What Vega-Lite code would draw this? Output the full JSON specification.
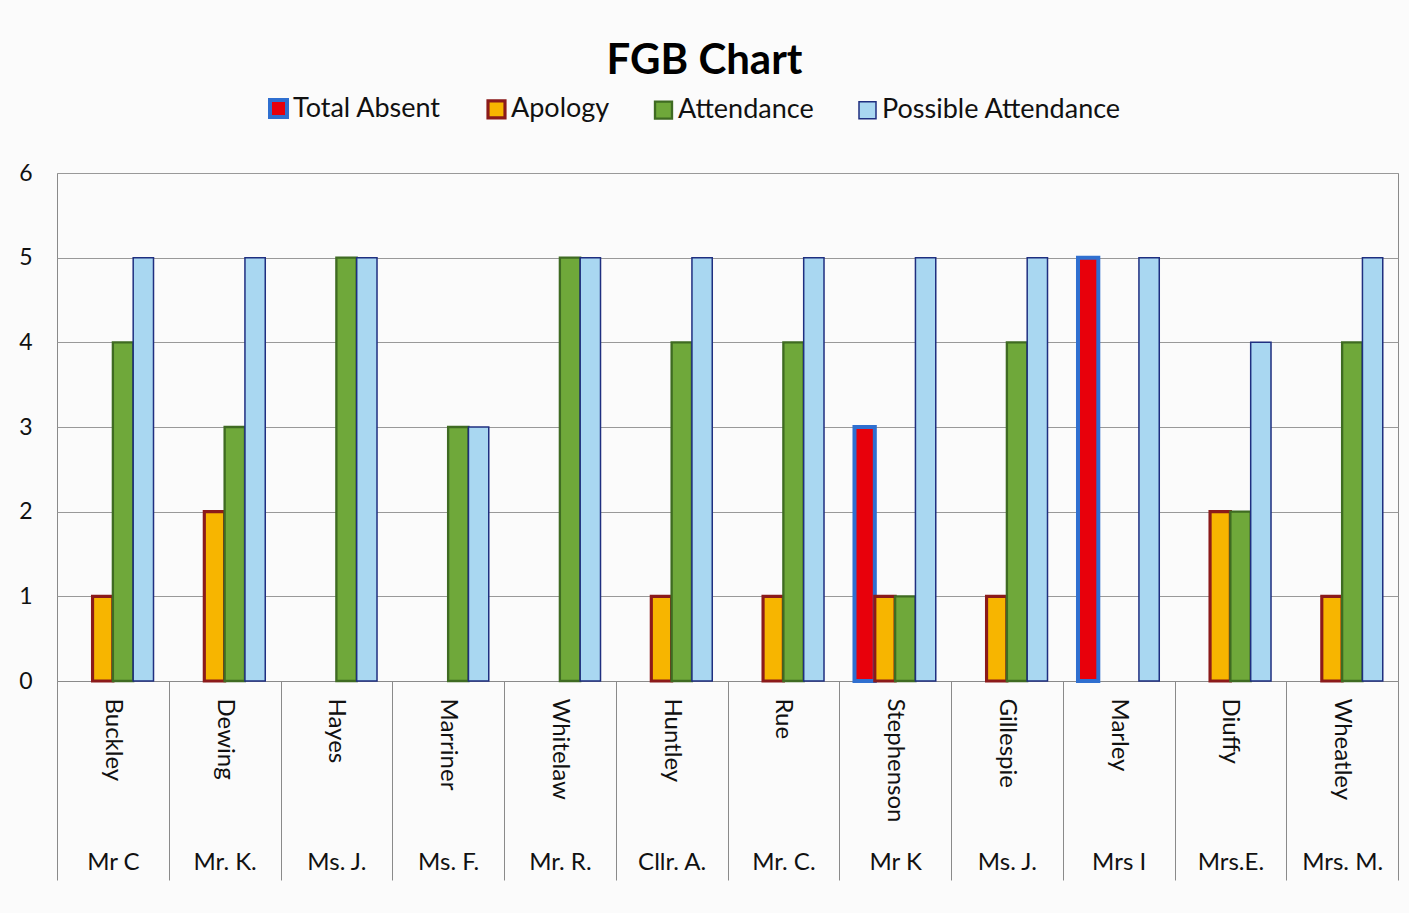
{
  "$schema": "https://vega.github.io/schema/vega-lite/v6.json",
  "width": 1341,
  "height": 508,
  "autosize": {"type": "none"},
  "padding": {"left": 57, "top": 173, "right": 11, "bottom": 232},
  "background": "#fbfbfb",
  "config": {
    "font": "Lato",
    "view": {"stroke": "#8a8a8a", "strokeWidth": 1}
  },
  "title": {"text": "FGB Chart", "fontSize": 42, "font": "Lato", "fontWeight": "bold", "color": "#000000", "anchor": "middle", "dx": -23, "offset": 12},
  "data": {
    "values": [
      {"person": "Buckley|Mr C", "Total Absent": 0, "Apology": 1, "Attendance": 4, "Possible Attendance": 5},
      {"person": "Dewing|Mr. K.", "Total Absent": 0, "Apology": 2, "Attendance": 3, "Possible Attendance": 5},
      {"person": "Hayes|Ms. J.", "Total Absent": 0, "Apology": 0, "Attendance": 5, "Possible Attendance": 5},
      {"person": "Marriner|Ms. F.", "Total Absent": 0, "Apology": 0, "Attendance": 3, "Possible Attendance": 3},
      {"person": "Whitelaw|Mr. R.", "Total Absent": 0, "Apology": 0, "Attendance": 5, "Possible Attendance": 5},
      {"person": "Huntley|Cllr. A.", "Total Absent": 0, "Apology": 1, "Attendance": 4, "Possible Attendance": 5},
      {"person": "Rue|Mr. C.", "Total Absent": 0, "Apology": 1, "Attendance": 4, "Possible Attendance": 5},
      {"person": "Stephenson|Mr K", "Total Absent": 3, "Apology": 1, "Attendance": 1, "Possible Attendance": 5},
      {"person": "Gillespie|Ms. J.", "Total Absent": 0, "Apology": 1, "Attendance": 4, "Possible Attendance": 5},
      {"person": "Marley|Mrs I", "Total Absent": 5, "Apology": 0, "Attendance": 0, "Possible Attendance": 5},
      {"person": "Diuffy|Mrs.E.", "Total Absent": 0, "Apology": 2, "Attendance": 2, "Possible Attendance": 4},
      {"person": "Wheatley|Mrs. M.", "Total Absent": 0, "Apology": 1, "Attendance": 4, "Possible Attendance": 5}
    ]
  },
  "transform": [
    {"fold": ["Total Absent", "Apology", "Attendance", "Possible Attendance"], "as": ["series", "value"]}
  ],
  "layer": [
    {
      "transform": [{"filter": "datum.value > 0"}],
      "mark": {"type": "bar"},
      "encoding": {
        "x": {
          "field": "person", "type": "nominal", "sort": null,
          "scale": {"paddingInner": 0, "paddingOuter": 0},
          "axis": {
            "orient": "bottom", "title": null, "grid": false,
            "labelExpr": "split(datum.value, '|')[0]",
            "labelAngle": 90, "labelAlign": "left", "labelBaseline": "middle",
            "labelPadding": 17, "ticks": false, "tickSize": 0,
            "domain": true, "domainColor": "#8a8a8a",
            "labelFontSize": 24, "labelColor": "#111111", "labelOverlap": false
          }
        },
        "xOffset": {
          "field": "series", "type": "nominal",
          "sort": ["Total Absent", "Apology", "Attendance", "Possible Attendance"],
          "scale": {"domain": ["Total Absent", "Apology", "Attendance", "Possible Attendance"], "paddingInner": 0, "paddingOuter": 0.75}
        },
        "y": {
          "field": "value", "type": "quantitative",
          "scale": {"domain": [0, 6], "nice": false},
          "axis": {
            "values": [0, 1, 2, 3, 4, 5, 6], "title": null, "grid": true,
            "gridColor": "#999999", "domain": false, "ticks": false,
            "labelFontSize": 23, "labelPadding": 25, "labelColor": "#111111"
          }
        },
        "fill": {
          "field": "series", "type": "nominal",
          "scale": {
            "domain": ["Total Absent", "Apology", "Attendance", "Possible Attendance"],
            "range": ["#e8000b", "#f7b500", "#6fa83a", "#a9d7f1"]
          },
          "legend": {
            "title": null, "orient": "none", "legendX": 208, "legendY": -78,
            "direction": "horizontal", "symbolType": "square", "symbolSize": 289,
            "symbolStrokeWidth": 2, "labelFontSize": 27, "labelOffset": 1,
            "columnPadding": 40, "labelColor": "#111111", "labelLimit": 400
          }
        },
        "stroke": {
          "field": "series", "type": "nominal",
          "scale": {
            "domain": ["Total Absent", "Apology", "Attendance", "Possible Attendance"],
            "range": ["#2f6fd0", "#8b1a1a", "#3f6b22", "#1f2f80"]
          },
          "legend": {
            "title": null, "orient": "none", "legendX": 208, "legendY": -78,
            "direction": "horizontal", "symbolType": "square", "symbolSize": 289,
            "symbolStrokeWidth": 2, "labelFontSize": 27, "labelOffset": 1,
            "columnPadding": 40, "labelColor": "#111111", "labelLimit": 400
          }
        },
        "strokeWidth": {
          "field": "series", "type": "nominal",
          "scale": {
            "domain": ["Total Absent", "Apology", "Attendance", "Possible Attendance"],
            "range": [4, 1.5, 1.5, 1.5]
          },
          "legend": null
        }
      }
    },
    {
      "mark": {"type": "text", "text": ""},
      "encoding": {
        "x": {
          "field": "person", "type": "nominal", "sort": null,
          "axis": {
            "orient": "bottom", "title": null, "grid": false,
            "labelExpr": "split(datum.value, '|')[1]",
            "labelAngle": 0, "labelAlign": "center", "labelBaseline": "middle",
            "labelPadding": -18, "ticks": true, "tickSize": 199,
            "tickBand": "extent", "tickColor": "#8a8a8a", "domain": false,
            "labelFontSize": 24, "labelColor": "#111111", "labelOverlap": false
          }
        }
      }
    }
  ],
  "resolve": {"axis": {"x": "independent"}}
}
